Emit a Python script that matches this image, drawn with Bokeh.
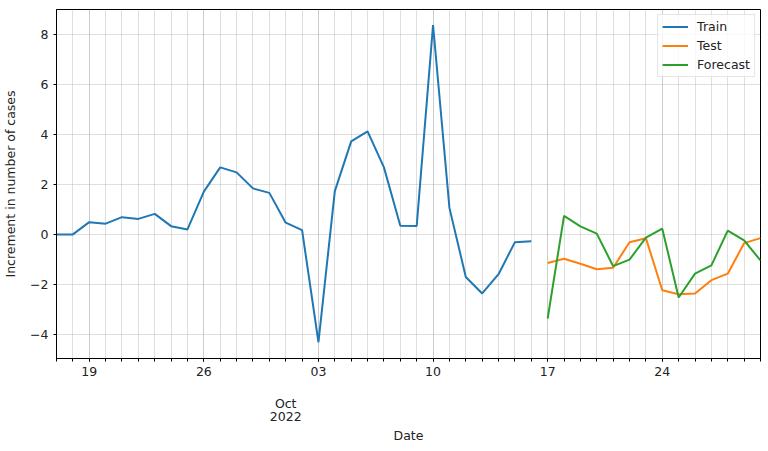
import pandas as pd
from bokeh.plotting import figure
from bokeh.models import (Range1d, FixedTicker, DatetimeTickFormatter, DatetimeAxis,
                          Legend, LegendItem)
from bokeh.embed import file_html
from bokeh.resources import INLINE

# ---- data ----
train_start = "2022-09-17"
test_start = "2022-10-17"
train_values = [0.0, 0.0, 0.49, 0.43, 0.69, 0.62, 0.82, 0.33, 0.2, 1.71,
                2.68, 2.48, 1.84, 1.66, 0.47, 0.17, -4.31, 1.73, 3.72, 4.12,
                2.68, 0.35, 0.34, 8.37, 1.06, -1.70, -2.36, -1.59, -0.31, -0.27]
test_values = [-1.14, -0.97, -1.17, -1.39, -1.33, -0.31, -0.15, -2.23, -2.39,
               -2.36, -1.83, -1.57, -0.35, -0.15]
forecast_values = [-3.36, 0.74, 0.32, 0.03, -1.27, -1.01, -0.13, 0.23, -2.52,
                   -1.57, -1.24, 0.15, -0.24, -1.04]
weekly_tick_dates = ["2022-09-19", "2022-09-26", "2022-10-03", "2022-10-10",
                     "2022-10-17", "2022-10-24"]
month_tick_date = "2022-10-01"
y_ticks = [-4, -2, 0, 2, 4, 6, 8]

train_dates = pd.date_range(train_start, periods=len(train_values), freq="D")
test_dates = pd.date_range(test_start, periods=len(test_values), freq="D")
all_dates = train_dates.append(test_dates)

def ms(d):
    return pd.Timestamp(d).value // 10**6

FONT = "DejaVu Sans"
FS = "12.5px"
TXT = "#222222"
TRAIN_C, TEST_C, FC_C = "#1f77b4", "#ff7f0e", "#2ca02c"

p = figure(x_axis_type="datetime", frame_width=704, frame_height=349,
           output_backend="svg", toolbar_location=None,
           min_border_left=55, min_border_top=9, min_border_right=1, min_border_bottom=0,
           x_range=Range1d(all_dates[0], all_dates[-1]),
           y_range=Range1d(-4.96, 8.99))
p.background_fill_color = "white"
p.border_fill_color = "white"
p.outline_line_color = "black"
p.outline_line_width = 1

r_train = p.line(train_dates, train_values, line_color=TRAIN_C, line_width=2)
r_test = p.line(test_dates, test_values, line_color=TEST_C, line_width=2)
r_fc = p.line(test_dates, forecast_values, line_color=FC_C, line_width=2)

def all_fmt(f):
    return DatetimeTickFormatter(microseconds=f, milliseconds=f, seconds=f, minsec=f,
                                 minutes=f, hourmin=f, hours=f, days=f, months=f, years=f)

# x axis: weekly day labels, daily minor ticks
xa = p.xaxis[0]
xa.ticker = FixedTicker(ticks=[ms(d) for d in weekly_tick_dates],
                        minor_ticks=[ms(d) for d in all_dates])
xa.formatter = all_fmt("%d")
xa.major_tick_out = 3
xa.major_tick_in = 0
xa.minor_tick_out = 3
xa.minor_tick_in = 0
xa.major_label_standoff = 5
xa.major_label_text_font = FONT
xa.major_label_text_font_size = FS
xa.major_label_text_color = TXT
xa.axis_line_color = "black"

def month_axis(fmt_str, label=None, standoff=0):
    ax = DatetimeAxis(ticker=FixedTicker(ticks=[ms(month_tick_date)]),
                      formatter=all_fmt(fmt_str))
    ax.axis_line_color = None
    ax.major_tick_line_color = None
    ax.minor_tick_line_color = None
    ax.major_tick_out = 0
    ax.major_tick_in = 0
    ax.minor_tick_out = 0
    ax.major_label_standoff = standoff
    ax.major_label_text_font = FONT
    ax.major_label_text_font_size = FS
    ax.major_label_text_color = TXT
    if label:
        ax.axis_label = label
        ax.axis_label_text_font = FONT
        ax.axis_label_text_font_size = FS
        ax.axis_label_text_font_style = "normal"
        ax.axis_label_text_color = TXT
        ax.axis_label_standoff = 4
    return ax

p.add_layout(month_axis("%b", standoff=17), "below")
p.add_layout(month_axis("%Y", label="Date", standoff=-2), "below")

# y axis
ya = p.yaxis[0]
ya.ticker = FixedTicker(ticks=y_ticks, minor_ticks=[])
ya.major_label_overrides = {t: (str(t) if t >= 0 else "\u2212" + str(-t)) for t in y_ticks}
ya.major_tick_out = 3
ya.major_tick_in = 0
ya.minor_tick_line_color = None
ya.major_label_standoff = 5
ya.major_label_text_font = FONT
ya.major_label_text_font_size = FS
ya.major_label_text_color = TXT
ya.axis_label = "Increment in number of cases"
ya.axis_label_text_font = FONT
ya.axis_label_text_font_size = FS
ya.axis_label_text_font_style = "normal"
ya.axis_label_text_color = TXT
ya.axis_label_standoff = 9
ya.axis_line_color = "black"

# grids
for g in (p.xgrid, p.ygrid):
    g.grid_line_color = "#b0b0b0"
    g.grid_line_alpha = 0.4
    g.grid_line_width = 1
p.xgrid.minor_grid_line_color = "#b0b0b0"
p.xgrid.minor_grid_line_alpha = 0.4
p.xgrid.minor_grid_line_width = 1

legend = Legend(items=[LegendItem(label="Train", renderers=[r_train]),
                       LegendItem(label="Test", renderers=[r_test]),
                       LegendItem(label="Forecast", renderers=[r_fc])],
                location="top_right")
legend.margin = 5
legend.padding = 4
legend.spacing = 4
legend.glyph_width = 26
legend.glyph_height = 15
legend.label_height = 15
legend.label_standoff = 9
legend.label_text_font = FONT
legend.label_text_font_size = FS
legend.label_text_color = TXT
legend.border_line_color = "#cccccc"
legend.border_line_width = 1
legend.background_fill_alpha = 0.8
p.add_layout(legend, "center")

open("out.html", "w").write(file_html(p, INLINE))
